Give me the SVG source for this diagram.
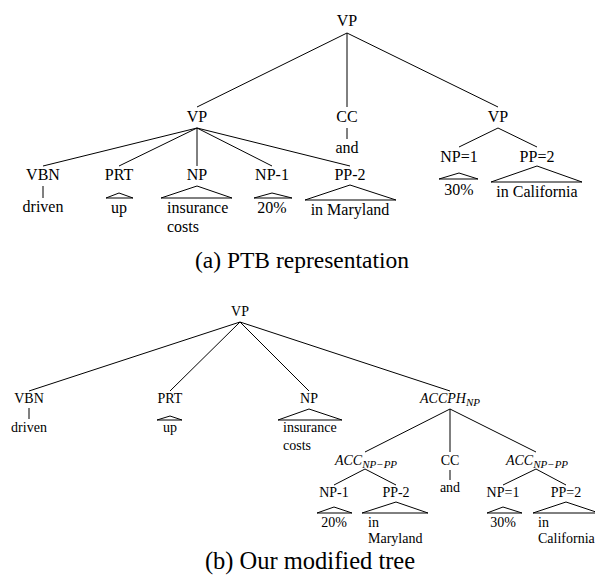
<svg xmlns="http://www.w3.org/2000/svg" width="595" height="580" viewBox="0 0 595 580" font-family="Liberation Serif, DejaVu Serif, serif">
<style>
text{fill:#000}
.t{font-size:16px;text-anchor:middle}
.tl{font-size:16px}
.b{font-size:14px;text-anchor:middle}
.bl{font-size:14px}
.it{font-style:italic}
.sub{font-size:11px;font-style:italic}
.cap{font-size:23.5px;text-anchor:middle}
.e line,.e polyline{stroke:#000;stroke-width:1;fill:none}
</style>
<rect width="595" height="580" fill="#fff"/>

<!-- (a) PTB tree -->
<g id="a-connectors" class="e">
  <line x1="347" y1="33" x2="197" y2="107"/>
  <line x1="347" y1="33" x2="347" y2="107"/>
  <line x1="347" y1="33" x2="498" y2="107"/>
  <line x1="197" y1="128" x2="43" y2="166"/>
  <line x1="197" y1="128" x2="119" y2="166"/>
  <line x1="197" y1="128" x2="197" y2="166"/>
  <line x1="197" y1="128" x2="272" y2="166"/>
  <line x1="197" y1="128" x2="350" y2="166"/>
  <line x1="498" y1="128" x2="459" y2="147"/>
  <line x1="498" y1="128" x2="537" y2="147"/>
  <line x1="347" y1="128" x2="347" y2="139"/>
  <line x1="43" y1="186" x2="43" y2="198"/>
  <polyline points="106,198 119,193 133,198 106,198"/>
  <polyline points="161,198 197,186 232,198 161,198"/>
  <polyline points="254,198 272,193 292,198 254,198"/>
  <polyline points="305,200 350,185 396,200 305,200"/>
  <polyline points="439,179 459,173 478,179 439,179"/>
  <polyline points="491,182 537,166 582,182 491,182"/>
</g>
<g id="a-vp-root"><text class="t" x="347" y="26">VP</text></g>
<g id="a-vp-left"><text class="t" x="197" y="122">VP</text></g>
<g id="a-cc"><text class="t" x="347" y="122">CC</text><text class="t" x="347" y="153">and</text></g>
<g id="a-vp-right"><text class="t" x="498" y="122">VP</text></g>
<g id="a-vbn"><text class="t" x="43" y="180">VBN</text><text class="t" x="43" y="212">driven</text></g>
<g id="a-prt"><text class="t" x="119" y="180">PRT</text><text class="t" x="119" y="213">up</text></g>
<g id="a-np"><text class="t" x="197" y="180">NP</text><text class="tl" x="167" y="213">insurance</text><text class="tl" x="167" y="232">costs</text></g>
<g id="a-np1"><text class="t" x="272" y="180">NP-1</text><text class="t" x="272" y="213">20%</text></g>
<g id="a-pp2"><text class="t" x="350" y="180">PP-2</text><text class="t" x="350" y="215">in Maryland</text></g>
<g id="a-npeq1"><text class="t" x="459" y="162">NP=1</text><text class="t" x="459" y="195">30%</text></g>
<g id="a-ppeq2"><text class="t" x="537" y="162">PP=2</text><text class="t" x="537" y="197">in California</text></g>
<text class="cap" x="302" y="268">(a) PTB representation</text>

<!-- (b) modified tree -->
<g id="b-connectors" class="e">
  <line x1="240" y1="322" x2="29" y2="391"/>
  <line x1="240" y1="322" x2="170" y2="391"/>
  <line x1="240" y1="322" x2="309" y2="391"/>
  <line x1="240" y1="322" x2="450" y2="391"/>
  <line x1="29" y1="408" x2="29" y2="419"/>
  <polyline points="157,420 170,416 182,420 157,420"/>
  <polyline points="278,420 309,409 342,420 278,420"/>
  <line x1="450" y1="409" x2="365" y2="452"/>
  <line x1="450" y1="409" x2="450" y2="452"/>
  <line x1="450" y1="409" x2="536" y2="452"/>
  <line x1="365" y1="469" x2="334" y2="485"/>
  <line x1="365" y1="469" x2="396" y2="485"/>
  <line x1="450" y1="470" x2="450" y2="480"/>
  <line x1="536" y1="469" x2="503" y2="485"/>
  <line x1="536" y1="469" x2="566" y2="485"/>
  <polyline points="317,513 334,507 352,513 317,513"/>
  <polyline points="362,513 396,502 428,513 362,513"/>
  <polyline points="487,513 503,507 522,513 487,513"/>
  <polyline points="533,513 566,502 599,513 533,513"/>
</g>
<g id="b-vp"><text class="b" x="240" y="316">VP</text></g>
<g id="b-vbn"><text class="b" x="29" y="403">VBN</text><text class="b" x="29" y="432">driven</text></g>
<g id="b-prt"><text class="b" x="170" y="403">PRT</text><text class="b" x="170" y="432">up</text></g>
<g id="b-np"><text class="b" x="309" y="403">NP</text><text class="bl" x="283" y="432">insurance</text><text class="bl" x="283" y="450">costs</text></g>
<g id="b-accph"><text class="b" x="450" y="403"><tspan class="it">ACCPH</tspan><tspan class="sub" dy="3">NP</tspan></text></g>
<g id="b-acc-left"><text class="b" x="366" y="465"><tspan class="it">ACC</tspan><tspan class="sub" dy="3">NP−PP</tspan></text></g>
<g id="b-cc"><text class="b" x="450" y="465">CC</text><text class="b" x="450" y="492">and</text></g>
<g id="b-acc-right"><text class="b" x="537" y="465"><tspan class="it">ACC</tspan><tspan class="sub" dy="3">NP−PP</tspan></text></g>
<g id="b-np1"><text class="b" x="334" y="497">NP-1</text><text class="b" x="334" y="527">20%</text></g>
<g id="b-pp2"><text class="b" x="396" y="497">PP-2</text><text class="bl" x="368" y="527">in</text><text class="bl" x="368" y="543">Maryland</text></g>
<g id="b-npeq1"><text class="b" x="503" y="497">NP=1</text><text class="b" x="503" y="527">30%</text></g>
<g id="b-ppeq2"><text class="b" x="566" y="497">PP=2</text><text class="bl" x="538" y="527">in</text><text class="bl" x="538" y="543">California</text></g>
<text class="cap" x="310" y="569" style="font-size:24.5px">(b) Our modified tree</text>
</svg>
